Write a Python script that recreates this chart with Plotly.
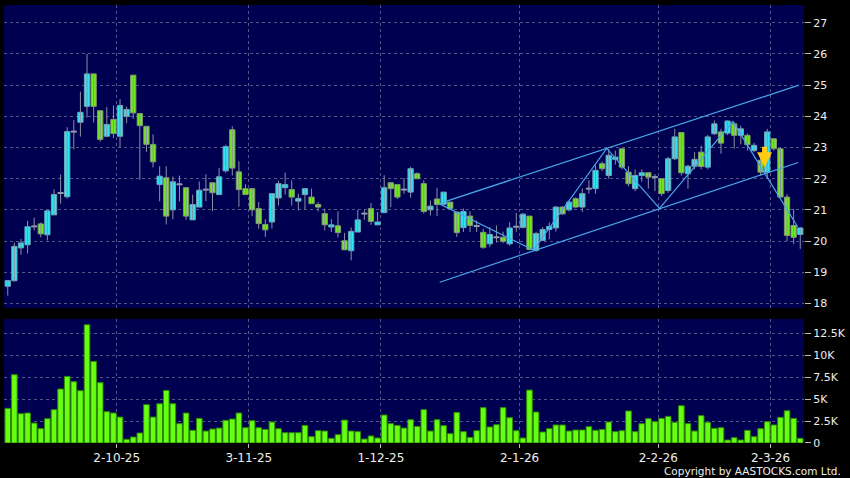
import pandas as pd
import plotly.graph_objects as go

# ---------------- data ----------------
holidays = ["2025-10-01", "2025-10-07", "2025-10-29", "2025-12-25", "2025-12-26",
            "2026-01-01", "2026-02-17", "2026-02-18", "2026-02-19"]
dates = [d for d in pd.bdate_range("2025-09-08", "2026-03-06")
         if d.strftime("%Y-%m-%d") not in holidays]

opens = [18.55, 18.73, 19.78, 19.88, 20.47, 20.55, 20.20, 20.84, 21.54, 21.42,
         23.51, 23.81, 24.32, 25.36, 24.18, 23.36, 23.90, 23.36, 24.00, 25.32,
         24.09, 23.68, 23.10, 21.81, 22.03, 21.00, 21.82, 21.71, 20.68, 21.09,
         21.65, 21.87, 21.49, 22.25, 23.57, 22.22, 21.68, 21.68, 21.04, 20.53,
         20.61, 21.38, 21.71, 21.65, 21.28, 21.49, 21.41, 21.17, 20.88, 20.45,
         20.49, 20.01, 19.69, 20.29, 20.88, 21.04, 20.52, 20.91, 21.87, 21.81,
         21.65, 21.57, 22.16, 21.84, 21.00, 21.35, 21.18, 21.25, 20.93, 20.43,
         20.80, 20.48, 20.28, 19.91, 20.12, 20.12, 19.91, 20.46, 20.44, 20.80,
         19.70, 20.02, 20.37, 20.42, 21.09, 21.00, 21.36, 21.09, 21.68, 21.68,
         22.48, 22.10, 22.62, 22.96, 22.21, 21.68, 22.10, 22.19, 22.05, 22.00,
         21.62, 22.64, 23.48, 22.16, 22.40, 22.85, 22.37, 23.44, 23.50, 23.46,
         23.76, 23.39, 23.39, 22.90, 22.59, 22.21, 23.28, 22.96, 21.41, 20.50,
         20.21]
highs = [18.75, 19.95, 20.07, 20.65, 20.75, 20.60, 20.97, 21.66, 22.13, 23.65,
         23.88, 24.79, 26.00, 25.36, 24.18, 24.30, 24.35, 24.55, 24.31, 25.32,
         24.09, 23.68, 23.42, 22.40, 22.40, 22.07, 22.10, 21.71, 21.49, 21.91,
         22.14, 21.87, 22.35, 23.09, 23.68, 22.56, 21.82, 21.68, 21.25, 20.70,
         21.52, 21.93, 22.20, 21.95, 21.52, 21.68, 21.68, 21.25, 21.04, 20.70,
         20.95, 20.26, 20.43, 21.00, 21.00, 21.22, 20.93, 22.11, 21.87, 21.81,
         22.02, 22.38, 22.20, 21.95, 21.30, 21.71, 21.57, 21.25, 20.93, 21.04,
         20.96, 20.66, 20.40, 20.45, 20.50, 20.30, 20.60, 20.90, 20.90, 20.80,
         20.30, 20.45, 20.60, 21.12, 21.12, 21.30, 21.40, 21.68, 21.95, 22.43,
         22.55, 22.95, 22.90, 22.96, 22.40, 22.30, 22.30, 22.20, 22.15, 22.00,
         22.70, 23.60, 23.50, 22.45, 22.85, 23.06, 23.40, 23.87, 23.60, 23.87,
         23.80, 23.70, 23.45, 23.15, 22.70, 23.60, 23.30, 23.00, 21.50, 21.03,
         20.45]
lows = [18.25, 18.70, 19.56, 19.60, 20.34, 20.12, 20.02, 20.84, 21.20, 21.36,
        22.94, 23.35, 23.96, 23.80, 23.19, 23.36, 23.30, 23.00, 23.78, 23.92,
        21.97, 22.86, 22.36, 21.27, 20.53, 20.70, 21.27, 20.68, 20.68, 21.09,
        21.28, 20.96, 21.49, 22.19, 22.10, 21.10, 21.49, 20.80, 20.40, 20.13,
        20.40, 21.14, 21.49, 21.14, 20.98, 21.02, 21.20, 20.95, 20.34, 20.29,
        20.11, 19.72, 19.38, 20.29, 20.68, 20.52, 20.52, 20.91, 21.09, 21.35,
        21.52, 21.39, 22.00, 20.88, 20.82, 20.80, 21.18, 21.00, 20.13, 20.29,
        20.29, 20.29, 19.75, 19.81, 19.95, 19.93, 19.85, 20.30, 20.40, 19.70,
        19.65, 20.00, 20.05, 20.30, 20.85, 20.95, 21.05, 20.93, 21.52, 21.52,
        22.25, 22.00, 22.45, 22.30, 21.75, 21.60, 21.90, 21.68, 21.60, 21.45,
        21.55, 22.60, 22.10, 21.68, 22.30, 22.30, 22.30, 23.40, 22.80, 23.40,
        22.96, 23.10, 22.90, 22.85, 22.10, 22.00, 22.90, 21.40, 20.00, 19.91,
        19.75]
closes = [18.73, 19.83, 19.94, 20.46, 20.47, 20.23, 20.97, 21.49, 21.54, 23.51,
          23.51, 24.13, 25.36, 24.32, 23.26, 23.74, 23.45, 24.35, 24.22, 24.11,
          23.70, 23.10, 22.54, 22.08, 20.80, 21.90, 21.82, 20.80, 21.17, 21.63,
          21.65, 21.55, 22.06, 23.03, 22.34, 21.65, 21.49, 21.00, 20.56, 20.36,
          21.52, 21.84, 21.81, 21.41, 21.37, 21.68, 21.20, 21.09, 20.52, 20.52,
          20.27, 19.72, 20.31, 20.68, 20.88, 20.63, 20.61, 21.71, 21.68, 21.41,
          21.65, 22.32, 22.00, 20.95, 21.12, 21.17, 21.57, 21.04, 20.27, 20.95,
          20.50, 20.48, 19.80, 20.21, 20.12, 19.99, 20.42, 20.46, 20.86, 19.73,
          20.24, 20.37, 20.47, 21.09, 20.87, 21.25, 21.09, 21.52, 21.68, 22.27,
          22.32, 22.75, 22.69, 22.37, 21.84, 22.10, 22.19, 22.05, 22.05, 21.52,
          22.64, 23.34, 22.19, 22.40, 22.62, 22.39, 23.34, 23.76, 23.14, 23.85,
          23.39, 23.60, 23.09, 23.07, 22.21, 23.50, 22.96, 21.41, 20.18, 20.12,
          20.42]
volumes = [3940, 7770, 3330, 3410, 2270, 1630, 2770, 3790, 6140, 7580,
           6970, 5950, 13450, 9280, 6860, 3560, 3410, 2950, 420, 680,
           1140, 4360, 2950, 4470, 5980, 4470, 2200, 3410, 1440, 2800,
           1360, 1590, 1700, 2580, 2730, 3410, 1740, 2540, 1740, 1550,
           2390, 1630, 1170, 1170, 1170, 2000, 720, 1400, 1360, 530,
           950, 2610, 1360, 1290, 450, 800, 570, 3180, 2200, 2000,
           1700, 2650, 1890, 3790, 1360, 2650, 1970, 1060, 3480, 1290,
           640, 1400, 4020, 1820, 2080, 4020, 2880, 1400, 570, 6020,
           3520, 1250, 1630, 2050, 2050, 1360, 1480, 1480, 1860, 1440,
           1550, 2390, 1290, 1400, 3640, 1290, 2200, 2770, 2420, 2800,
           3030, 2350, 4240, 2200, 1360, 3110, 2350, 1670, 1740, 340,
           610, 340, 1440, 720, 1630, 2420, 2050, 2920, 3670, 2800,
           530]

tick_labels = ["2-10-25", "3-11-25", "1-12-25", "2-1-26", "2-2-26", "2-3-26"]
price_ticks = [18, 19, 20, 21, 22, 23, 24, 25, 26, 27]
vol_ticks = [0, 2500, 5000, 7500, 10000, 12500]
vol_tick_labels = ["0", "2.5K", "5K", "7.5K", "10K", "12.5K"]

# drawn channel and zigzag (bar index, price)
upper_line_x = [65.3, 119.8]
upper_line_y = [21.20, 25.00]
lower_line_x = [65.4, 119.7]
lower_line_y = [18.68, 22.52]
zigzag_x = [65.3, 79.6, 90.7, 98.7, 109.8, 114.5, 119.6]
zigzag_y = [21.20, 19.71, 22.97, 21.05, 23.83, 22.22, 20.46]
signal_x = 114.6
signal_y = 22.37

# ---------------- derived ----------------
idx = list(range(len(dates)))
month_starts = [i for i in range(1, len(dates)) if dates[i].month != dates[i - 1].month]
tick_pos = [i - 0.5 for i in month_starts]

UP, UP_EDGE = "#2de6f6", "#6aa6b8"
DOWN, DOWN_EDGE = "#72ec1c", "#7e9a6c"
DOJI, DOJI_EDGE = "#9aa0b4", "#9aa0b4"
WICK = "#8a90a4"
NAVY = "#000050"
GRID = "#55558a"
TXT = "#eeeeee"
FONT = "DejaVu Sans"

body_base, body_h, body_col, body_edge = [], [], [], []
for o, c in zip(opens, closes):
    lo_, hi_ = min(o, c), max(o, c)
    if hi_ - lo_ < 0.03:
        mid = (hi_ + lo_) / 2
        body_base.append(mid - 0.015)
        body_h.append(0.03)
        body_col.append(DOJI)
        body_edge.append(DOJI_EDGE)
    else:
        body_base.append(lo_)
        body_h.append(hi_ - lo_)
        body_col.append(UP if c > o else DOWN)
        body_edge.append(UP_EDGE if c > o else DOWN_EDGE)

wick_x, wick_y = [], []
for i, h, l in zip(idx, highs, lows):
    wick_x += [i, i, None]
    wick_y += [l, h, None]

fig = go.Figure()
fig.add_trace(go.Scatter(x=wick_x, y=wick_y, mode="lines",
                         line=dict(color=WICK, width=1), xaxis="x", yaxis="y",
                         showlegend=False, hoverinfo="skip"))
fig.add_trace(go.Bar(x=idx, y=body_h, base=body_base, width=0.8,
                     marker=dict(color=body_col, line=dict(color=body_edge, width=1)),
                     xaxis="x", yaxis="y", showlegend=False, hoverinfo="skip"))

for lx, ly in [(upper_line_x, upper_line_y), (lower_line_x, lower_line_y), (zigzag_x, zigzag_y)]:
    fig.add_trace(go.Scatter(x=lx, y=ly, mode="lines",
                             line=dict(color="#4aa8ea", width=1.2),
                             xaxis="x", yaxis="y", showlegend=False, hoverinfo="skip"))

fig.add_trace(go.Bar(
    x=idx, y=volumes, width=0.85,
    marker=dict(color="#66ff14", line=dict(color="#2f8a00", width=1)),
    xaxis="x2", yaxis="y2", showlegend=False, hoverinfo="skip"))

fig.add_annotation(x=signal_x, y=signal_y, xref="x", yref="y", text="",
                   showarrow=True, ax=0, ay=-22, arrowcolor="#ffcc10",
                   arrowwidth=5, arrowhead=2, arrowsize=0.6, standoff=0)

fig.add_annotation(text="Copyright by AASTOCKS.com Ltd.", xref="paper", yref="paper",
                   x=1.049, y=-0.064, xanchor="right", yanchor="middle",
                   showarrow=False, font=dict(family=FONT, size=10.5, color=TXT))

xr = [-0.57, len(dates) - 1 + 0.57]
common_x = dict(range=xr, showgrid=True, gridcolor=GRID, griddash="dot", gridwidth=1,
                zeroline=False, showline=False, tickvals=tick_pos, fixedrange=True)
common_y = dict(side="right", showgrid=True, gridcolor=GRID, griddash="dot", gridwidth=1,
                zeroline=False, showline=False, ticks="outside", ticklen=6,
                tickcolor="#bbbbbb", tickfont=dict(family=FONT, size=11, color=TXT),
                fixedrange=True)

fig.update_layout(
    width=850, height=478,
    margin=dict(l=4, r=43, t=5, b=35),
    paper_bgcolor="black", plot_bgcolor=NAVY,
    barmode="overlay",
    xaxis=dict(**common_x, domain=[0, 1], anchor="y", showticklabels=False, ticks=""),
    xaxis2=dict(**common_x, domain=[0, 1], anchor="y2", matches="x",
                ticktext=tick_labels, ticks="outside", ticklen=4, tickcolor="#bbbbbb",
                tickfont=dict(family=FONT, size=12, color=TXT)),
    yaxis=dict(**common_y, domain=[0.308, 1], anchor="x", range=[17.85, 27.57],
               tickvals=price_ticks),
    yaxis2=dict(**common_y, domain=[0, 0.283], anchor="x2", range=[0, 14100],
                tickvals=vol_ticks, ticktext=vol_tick_labels),
)

fig.write_html("out.html", config={"displayModeBar": False, "staticPlot": True},
               post_script="document.body.style.margin='0px';document.body.style.background='black';")
